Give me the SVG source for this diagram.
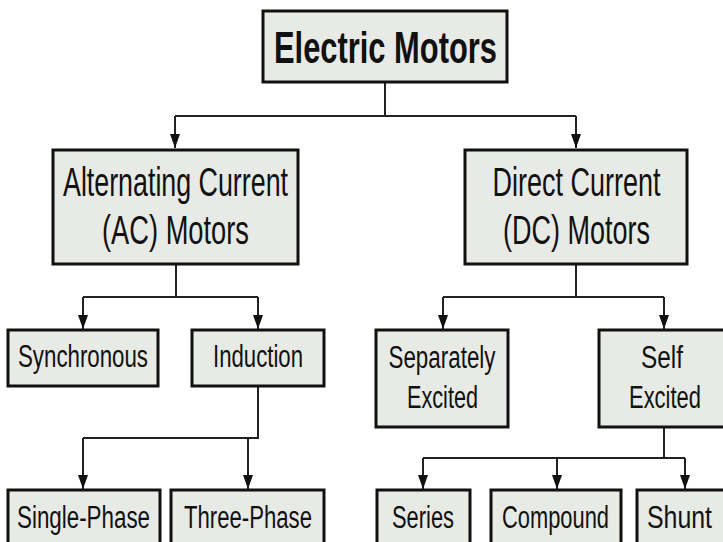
<svg xmlns="http://www.w3.org/2000/svg" width="723" height="542" viewBox="0 0 723 542">
<defs>
<style>
.box{fill:#e7eae5;stroke:#111;stroke-width:3}
.t{font-family:"Liberation Sans",Arial,sans-serif;fill:#111;text-anchor:middle}
.big{font-size:41px}
.sm{font-size:31px}
.title{font-size:44px;font-weight:bold}
.c{fill:none;stroke:#222;stroke-width:2}
</style>
<marker id="ah" viewBox="0 0 10 14" refX="5" refY="14" markerWidth="10" markerHeight="14" markerUnits="userSpaceOnUse" orient="0">
<path d="M0,0 L10,0 L5,14 z" fill="#111"/>
</marker>
</defs>
<rect width="723" height="542" fill="#fff"/>
<g id="connectors">
<path class="c" d="M385,82 V116 M175,116 H576"/>
<path class="c" d="M175,116 V148" marker-end="url(#ah)"/>
<path class="c" d="M576,116 V148" marker-end="url(#ah)"/>
<path class="c" d="M176,265 V297 M83,297 H258"/>
<path class="c" d="M83,297 V329" marker-end="url(#ah)"/>
<path class="c" d="M258,297 V329" marker-end="url(#ah)"/>
<path class="c" d="M576,265 V297 M443,297 H664"/>
<path class="c" d="M443,297 V329" marker-end="url(#ah)"/>
<path class="c" d="M664,297 V329" marker-end="url(#ah)"/>
<path class="c" d="M258,387 V438 H83"/>
<path class="c" d="M83,438 V489" marker-end="url(#ah)"/>
<path class="c" d="M248,438 V489" marker-end="url(#ah)"/>
<path class="c" d="M664,428 V458 M423,458 H685"/>
<path class="c" d="M423,458 V489" marker-end="url(#ah)"/>
<path class="c" d="M557,458 V489" marker-end="url(#ah)"/>
<path class="c" d="M685,458 V489" marker-end="url(#ah)"/>
</g>
<g id="electric-motors">
<rect class="box" x="263" y="11" width="244" height="71"/>
<text class="t title" x="385.5" y="63" textLength="223" lengthAdjust="spacingAndGlyphs">Electric Motors</text>
</g>
<g id="ac-motors">
<rect class="box" x="53" y="150" width="245" height="114"/>
<text class="t big" x="175.5" y="196" textLength="225" lengthAdjust="spacingAndGlyphs">Alternating Current</text>
<text class="t big" x="175.5" y="244" textLength="147" lengthAdjust="spacingAndGlyphs">(AC) Motors</text>
</g>
<g id="dc-motors">
<rect class="box" x="465" y="150" width="222" height="114"/>
<text class="t big" x="576.5" y="196" textLength="168" lengthAdjust="spacingAndGlyphs">Direct Current</text>
<text class="t big" x="576.5" y="244" textLength="147" lengthAdjust="spacingAndGlyphs">(DC) Motors</text>
</g>
<g id="synchronous">
<rect class="box" x="8" y="330" width="150" height="56"/>
<text class="t sm" x="83" y="367" textLength="130" lengthAdjust="spacingAndGlyphs">Synchronous</text>
</g>
<g id="induction">
<rect class="box" x="192" y="330" width="132" height="56"/>
<text class="t sm" x="258" y="367" textLength="90" lengthAdjust="spacingAndGlyphs">Induction</text>
</g>
<g id="separately-excited">
<rect class="box" x="376" y="330" width="132" height="97"/>
<text class="t sm" x="442" y="368" textLength="107" lengthAdjust="spacingAndGlyphs">Separately</text>
<text class="t sm" x="442.5" y="408" textLength="71" lengthAdjust="spacingAndGlyphs">Excited</text>
</g>
<g id="self-excited">
<rect class="box" x="599" y="330" width="140" height="97"/>
<text class="t sm" x="662" y="368" textLength="42" lengthAdjust="spacingAndGlyphs">Self</text>
<text class="t sm" x="665" y="408" textLength="72" lengthAdjust="spacingAndGlyphs">Excited</text>
</g>
<g id="single-phase">
<rect class="box" x="8" y="490" width="152" height="70"/>
<text class="t sm" x="83.5" y="528" textLength="133" lengthAdjust="spacingAndGlyphs">Single-Phase</text>
</g>
<g id="three-phase">
<rect class="box" x="171" y="490" width="153" height="70"/>
<text class="t sm" x="248" y="528" textLength="128" lengthAdjust="spacingAndGlyphs">Three-Phase</text>
</g>
<g id="series">
<rect class="box" x="377" y="490" width="93" height="70"/>
<text class="t sm" x="423" y="528" textLength="62" lengthAdjust="spacingAndGlyphs">Series</text>
</g>
<g id="compound">
<rect class="box" x="491" y="490" width="130" height="70"/>
<text class="t sm" x="555.5" y="528" textLength="107" lengthAdjust="spacingAndGlyphs">Compound</text>
</g>
<g id="shunt">
<rect class="box" x="637" y="490" width="100" height="70"/>
<text class="t sm" x="679.5" y="528" textLength="65" lengthAdjust="spacingAndGlyphs">Shunt</text>
</g>
</svg>
